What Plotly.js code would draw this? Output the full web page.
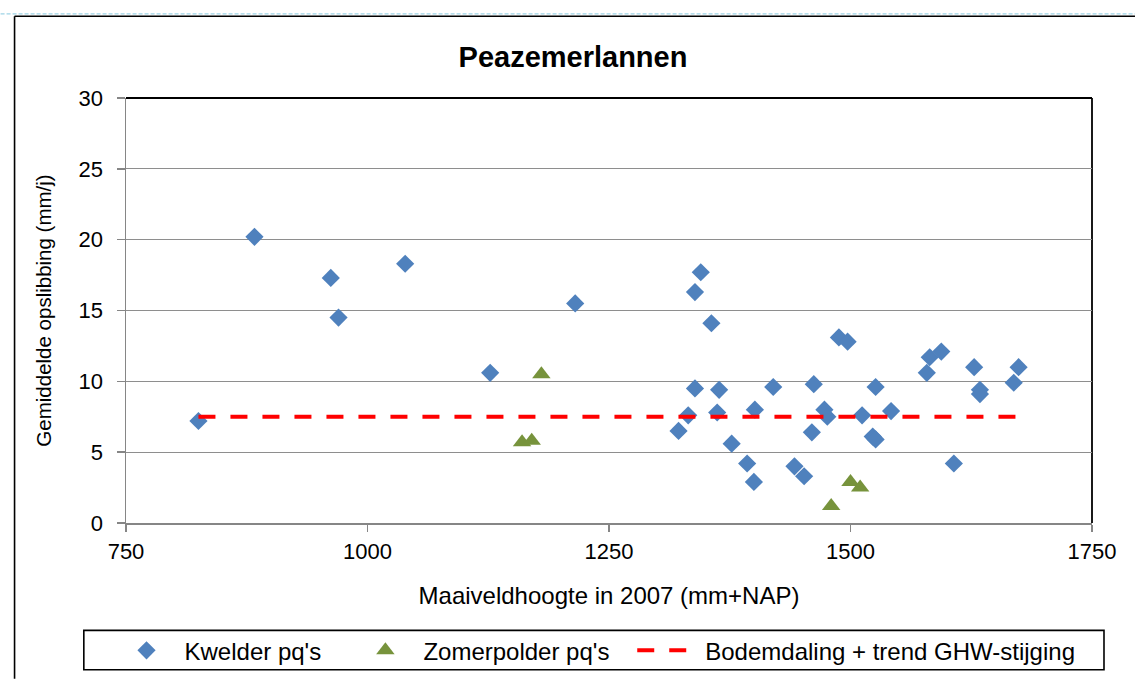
<!DOCTYPE html>
<html>
<head>
<meta charset="utf-8">
<script src="https://cdn.plot.ly/plotly-3.0.1.min.js"></script>
<style>
  html, body { margin: 0; padding: 0; background: #ffffff; }
  #chart { width: 1135px; height: 679px; }
</style>
</head>
<body>
<div id="chart"></div>
<script>
// ---- Data ----
const kwelderX = [825, 883, 962, 970, 1039, 1127, 1215, 1345, 1339, 1356, 1488, 1497, 1582, 1594, 1579, 1628, 1674, 1669, 1634, 1634, 1339, 1364, 1420, 1462, 1526, 1332, 1362, 1401, 1473, 1476, 1512, 1542, 1322, 1460, 1523, 1526, 1377, 1393, 1400, 1442, 1452, 1607];
const kwelderY = [7.2, 20.2, 17.3, 14.5, 18.3, 10.6, 15.5, 17.7, 16.3, 14.1, 13.1, 12.8, 11.7, 12.1, 10.6, 11.0, 11.0, 9.9, 9.4, 9.1, 9.5, 9.4, 9.6, 9.8, 9.6, 7.6, 7.8, 8.0, 8.0, 7.5, 7.6, 7.9, 6.5, 6.4, 6.1, 5.9, 5.6, 4.2, 2.9, 4.0, 3.3, 4.2];
const zomerX = [1180, 1160, 1170, 1480, 1500, 1510];
const zomerY = [10.5, 5.7, 5.8, 1.2, 2.9, 2.5];
const trendX = [825, 1674];
const trendY = [7.5, 7.5];

const seriesNames = ["Kwelder pq's", "Zomerpolder pq's", "Bodemdaling + trend GHW-stijging"];
const chartTitle = "Peazemerlannen";
const xTitle = "Maaiveldhoogte in 2007 (mm+NAP)";
const yTitle = "Gemiddelde opslibbing (mm/j)";
const xTicks = [750, 1000, 1250, 1500, 1750];
const yTicks = [0, 5, 10, 15, 20, 25, 30];

// ---- Layout geometry (pixels) ----
const W = 1135, H = 679;
const L = 125.5, R = 1092, T = 98.3, B = 523.3;
const px = x => (x - L) / (R - L);
const py = y => (B - y) / (B - T);

const FONT = "Liberation Sans, Arial, sans-serif";

const traces = [
  {
    type: 'scatter', mode: 'markers', name: seriesNames[0],
    x: kwelderX, y: kwelderY,
    marker: { symbol: 'diamond', size: 14, color: '#4F81BD', line: { width: 0 } },
    legend: 'legend', cliponaxis: false
  },
  {
    type: 'scatter', mode: 'markers', name: seriesNames[1],
    x: zomerX, y: zomerY,
    marker: { symbol: 'triangle-up', size: 16, color: '#77933C', line: { width: 0 } },
    legend: 'legend2', cliponaxis: false
  },
  {
    type: 'scatter', mode: 'lines', name: seriesNames[2],
    x: trendX, y: trendY,
    line: { color: '#FF0000', width: 4, dash: '17px,15px' },
    legend: 'legend3'
  }
];

const legendCommon = {
  orientation: 'h', xanchor: 'left', yanchor: 'middle',
  y: py(651), yref: 'paper', xref: 'paper',
  bgcolor: 'rgba(0,0,0,0)', borderwidth: 0,
  itemwidth: 66,
  font: { family: FONT, size: 24, color: '#000000' }
};

const layout = {
  width: W, height: H,
  paper_bgcolor: '#ffffff', plot_bgcolor: '#ffffff',
  margin: { l: L, r: W - R, t: T, b: H - B, pad: 0, autoexpand: false },
  font: { family: FONT, size: 22, color: '#000000' },
  title: {
    text: '<b>' + chartTitle + '</b>',
    font: { family: FONT, size: 29, color: '#000000' },
    x: 573 / W, xref: 'container', xanchor: 'center',
    y: 1 - 57 / H, yref: 'container', yanchor: 'middle'
  },
  xaxis: {
    range: [750, 1750], tickvals: xTicks, ticktext: xTicks.map(String),
    showgrid: false, zeroline: false,
    showline: true, linecolor: '#868686', linewidth: 1.5,
    ticks: 'outside', ticklen: 7, tickcolor: '#868686', tickwidth: 1.5,
    ticklabelstandoff: 1,
    tickfont: { family: FONT, size: 22, color: '#000000' },
    title: { text: xTitle, font: { family: FONT, size: 24, color: '#000000' }, standoff: 24 },
    automargin: false, fixedrange: true
  },
  yaxis: {
    range: [0, 30], tickvals: yTicks, ticktext: yTicks.map(String),
    showgrid: true, gridcolor: '#8e8e8e', gridwidth: 1.3,
    zeroline: false,
    showline: true, linecolor: '#868686', linewidth: 1.5,
    ticks: 'outside', ticklen: 8, tickcolor: '#868686', tickwidth: 1.5,
    ticklabelstandoff: 9,
    tickfont: { family: FONT, size: 22, color: '#000000' },
    title: { text: yTitle, font: { family: FONT, size: 20.5, color: '#000000' }, standoff: 21 },
    automargin: false, fixedrange: true
  },
  showlegend: true,
  legend: Object.assign({}, legendCommon, { x: px(108) }),
  legend2: Object.assign({}, legendCommon, { x: px(347) }),
  legend3: Object.assign({}, legendCommon, { x: px(632), itemwidth: 63 }),
  shapes: [
    // plot area frame (top and right in black)
    { type: 'line', xref: 'paper', yref: 'paper', x0: 0, x1: 1, y0: 1, y1: 1, line: { color: '#000000', width: 1.8 }, layer: 'below' },
    { type: 'line', xref: 'paper', yref: 'paper', x0: 1, x1: 1, y0: 0, y1: 1, line: { color: '#000000', width: 1.8 }, layer: 'below' },
    // legend box
    { type: 'rect', xref: 'paper', yref: 'paper', x0: px(83.3), x1: px(1104), y0: py(630.7), y1: py(670), line: { color: '#000000', width: 1.6 }, fillcolor: 'rgba(0,0,0,0)', layer: 'below' },
    // outer chart border (top and left)
    { type: 'line', xref: 'paper', yref: 'paper', x0: px(14), x1: px(1135), y0: py(16.5), y1: py(16.5), line: { color: '#000000', width: 1.6 }, layer: 'below' },
    { type: 'line', xref: 'paper', yref: 'paper', x0: px(14), x1: px(14), y0: py(16.5), y1: py(679), line: { color: '#000000', width: 1.6 }, layer: 'below' },
    // light blue dotted frame line above
    { type: 'line', xref: 'paper', yref: 'paper', x0: px(0), x1: px(1135), y0: py(14.2), y1: py(14.2), line: { color: '#9ed3e6', width: 1.2, dash: '4px,2px' }, layer: 'below' }
  ]
};

Plotly.newPlot('chart', traces, layout, { displayModeBar: false, staticPlot: true });
</script>
</body>
</html>
